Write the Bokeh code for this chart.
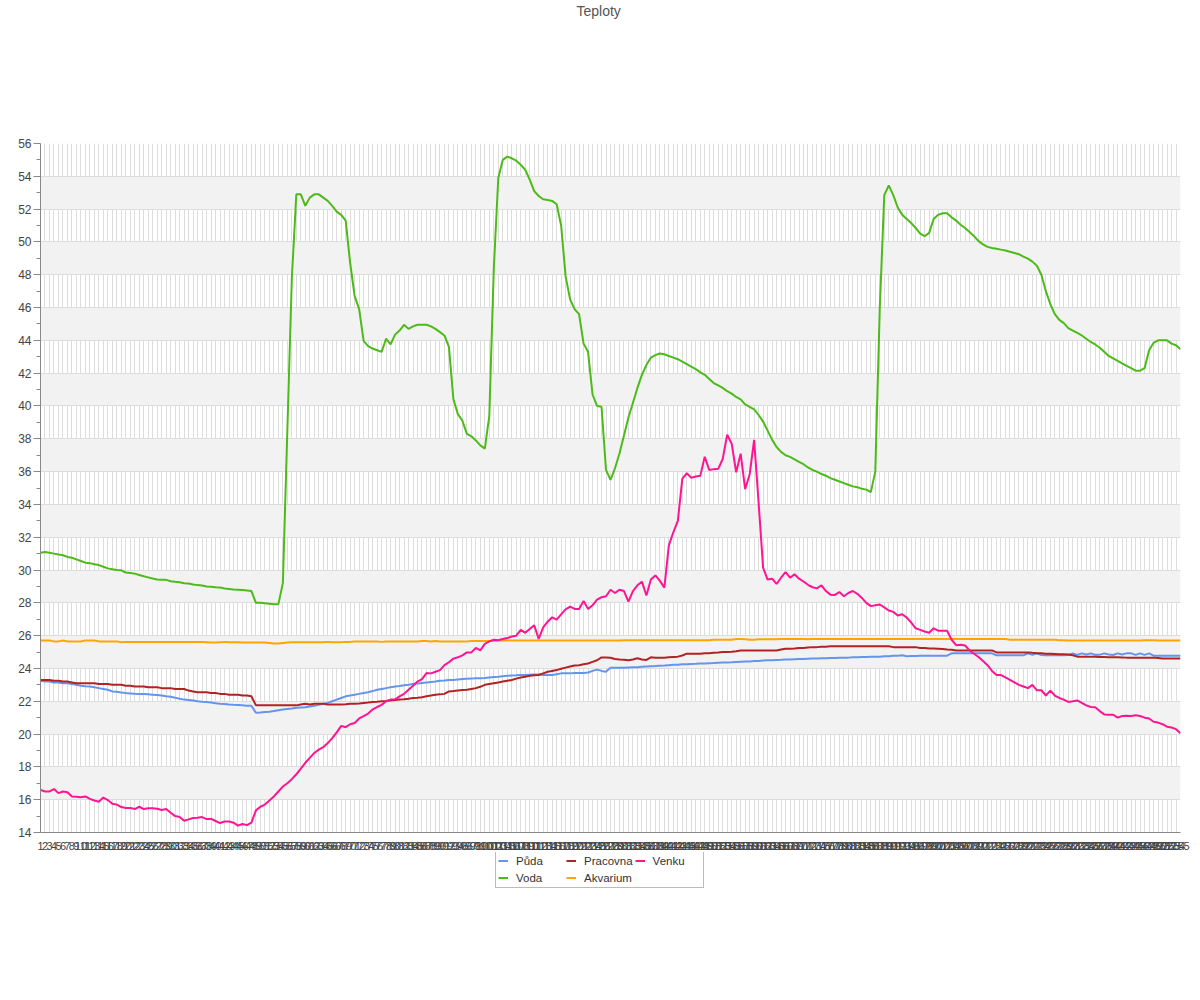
from bokeh.plotting import figure
from bokeh.models import (ColumnDataSource, Range1d, FixedTicker, Legend, LegendItem, Title)
from bokeh.layouts import column
from bokeh.embed import file_html
from bokeh.resources import INLINE

title_text = "Teploty"
series_names = ["Půda", "Pracovna", "Venku", "Voda", "Akvarium"]
series_colors = ["#6495ED", "#B22222", "#FF1493", "#4CBB17", "#FFA500"]

# x categories (sample numbers 1..255, shown as tick labels)
samples = list(range(1, 256))

puda = [
    23.25, 23.2, 23.2, 23.15, 23.15, 23.1, 23.1, 23.05, 23.0, 22.95,
    22.92, 22.9, 22.85, 22.8, 22.75, 22.7, 22.6, 22.58, 22.53, 22.5,
    22.48, 22.46, 22.45, 22.44, 22.42, 22.4, 22.38, 22.35, 22.3, 22.27,
    22.22, 22.15, 22.1, 22.08, 22.05, 22.0, 21.97, 21.95, 21.92, 21.88,
    21.85, 21.83, 21.8, 21.78, 21.77, 21.75, 21.73, 21.72, 21.3, 21.32,
    21.35, 21.36, 21.4, 21.45, 21.5, 21.53, 21.56, 21.6, 21.62, 21.64,
    21.68, 21.72, 21.78, 21.85, 21.9, 22.0, 22.1, 22.2, 22.3, 22.35,
    22.4, 22.45, 22.5, 22.55, 22.62, 22.7, 22.75, 22.8, 22.85, 22.9,
    22.93, 22.97, 23.0, 23.05, 23.08, 23.12, 23.15, 23.18, 23.2, 23.25,
    23.27, 23.3, 23.3, 23.33, 23.35, 23.37, 23.38, 23.4, 23.4, 23.42,
    23.45, 23.48, 23.5, 23.53, 23.55, 23.57, 23.58, 23.6, 23.6, 23.62,
    23.63, 23.63, 23.6, 23.6, 23.6, 23.65, 23.7, 23.7, 23.7, 23.72,
    23.72, 23.73, 23.75, 23.85, 23.93, 23.85, 23.8, 24.05, 24.05, 24.05,
    24.05, 24.06, 24.07, 24.08, 24.1, 24.12, 24.14, 24.15, 24.17, 24.18,
    24.2, 24.22, 24.23, 24.25, 24.26, 24.27, 24.28, 24.3, 24.3, 24.32,
    24.33, 24.35, 24.36, 24.37, 24.38, 24.4, 24.41, 24.42, 24.43, 24.45,
    24.46, 24.48, 24.5, 24.5, 24.52, 24.53, 24.55, 24.55, 24.56, 24.57,
    24.58, 24.59, 24.6, 24.6, 24.62, 24.62, 24.63, 24.64, 24.65, 24.66,
    24.66, 24.68, 24.68, 24.7, 24.7, 24.71, 24.72, 24.72, 24.74, 24.75,
    24.77, 24.78, 24.8, 24.75, 24.76, 24.76, 24.77, 24.77, 24.77, 24.78,
    24.78, 24.78, 24.78, 24.92, 24.92, 24.92, 24.92, 24.92, 24.92, 24.92,
    24.92, 24.92, 24.92, 24.8, 24.8, 24.8, 24.8, 24.8, 24.8, 24.8,
    24.92, 24.83, 24.92, 24.82, 24.8, 24.8, 24.82, 24.8, 24.8, 24.82,
    24.92, 24.83, 24.92, 24.85, 24.92, 24.83, 24.83, 24.92, 24.85, 24.82,
    24.92, 24.85, 24.92, 24.92, 24.83, 24.92, 24.83, 24.92, 24.78, 24.78,
    24.78, 24.78, 24.78, 24.78, 24.78,
]

pracovna = [
    23.3, 23.3, 23.3, 23.25, 23.25, 23.2, 23.2, 23.15, 23.1, 23.1,
    23.1, 23.1, 23.1, 23.05, 23.05, 23.05, 23.0, 23.0, 23.0, 22.95,
    22.95, 22.9, 22.9, 22.9, 22.85, 22.85, 22.85, 22.8, 22.8, 22.8,
    22.75, 22.75, 22.75, 22.65, 22.6, 22.55, 22.55, 22.55, 22.5, 22.5,
    22.45, 22.45, 22.4, 22.4, 22.4, 22.35, 22.35, 22.3, 21.75, 21.75,
    21.75, 21.75, 21.75, 21.75, 21.75, 21.75, 21.75, 21.75, 21.8, 21.85,
    21.8, 21.85, 21.85, 21.85, 21.8, 21.8, 21.8, 21.8, 21.82, 21.85,
    21.85, 21.87, 21.9, 21.92, 21.95, 21.97, 22.0, 22.02, 22.05, 22.08,
    22.1, 22.12, 22.15, 22.2, 22.22, 22.25, 22.3, 22.35, 22.4, 22.42,
    22.45, 22.6, 22.62, 22.65, 22.68, 22.7, 22.75, 22.8, 22.88, 23.0,
    23.05, 23.1, 23.15, 23.2, 23.25, 23.3, 23.38, 23.45, 23.5, 23.55,
    23.58, 23.6, 23.7, 23.8, 23.85, 23.9, 23.98, 24.05, 24.12, 24.18,
    24.2, 24.25, 24.3, 24.4, 24.5, 24.67, 24.67, 24.65, 24.58, 24.55,
    24.53, 24.5, 24.55, 24.62, 24.55, 24.52, 24.68, 24.65, 24.65, 24.65,
    24.68, 24.7, 24.72, 24.79, 24.9, 24.9, 24.9, 24.9, 24.92, 24.92,
    24.95, 24.97, 25.0, 25.0, 25.02, 25.05, 25.1, 25.1, 25.1, 25.1,
    25.1, 25.1, 25.1, 25.1, 25.1, 25.15, 25.2, 25.2, 25.22, 25.25,
    25.25, 25.28, 25.3, 25.3, 25.32, 25.33, 25.35, 25.35, 25.35, 25.35,
    25.35, 25.35, 25.35, 25.35, 25.35, 25.35, 25.35, 25.35, 25.35, 25.35,
    25.3, 25.3, 25.3, 25.3, 25.3, 25.3, 25.25, 25.25, 25.22, 25.22,
    25.2, 25.18, 25.15, 25.14, 25.1, 25.1, 25.1, 25.1, 25.1, 25.1,
    25.1, 25.1, 25.1, 24.98, 24.98, 24.98, 24.98, 24.98, 24.98, 24.98,
    24.98, 24.95, 24.93, 24.92, 24.9, 24.9, 24.88, 24.86, 24.86, 24.85,
    24.8, 24.72, 24.72, 24.72, 24.72, 24.71, 24.7, 24.7, 24.69, 24.68,
    24.68, 24.67, 24.66, 24.66, 24.66, 24.66, 24.66, 24.66, 24.66, 24.63,
    24.6, 24.6, 24.6, 24.6, 24.6,
]

venku = [
    16.6, 16.5, 16.5, 16.65, 16.4, 16.5, 16.45, 16.2, 16.18, 16.15,
    16.2, 16.05, 15.95, 15.88, 16.13, 15.98, 15.75, 15.7, 15.55, 15.5,
    15.5, 15.43, 15.57, 15.43, 15.48, 15.48, 15.45, 15.37, 15.43, 15.2,
    15.0, 14.95, 14.72, 14.8, 14.88, 14.9, 14.94, 14.82, 14.83, 14.7,
    14.57, 14.67, 14.67, 14.6, 14.42, 14.52, 14.45, 14.6, 15.35, 15.57,
    15.7, 15.95, 16.2, 16.5, 16.8, 17.0, 17.25, 17.55, 17.9, 18.25,
    18.55, 18.85, 19.05, 19.2, 19.45, 19.75, 20.1, 20.5, 20.42, 20.6,
    20.68, 20.95, 21.1, 21.25, 21.5, 21.65, 21.78, 22.0, 22.1, 22.12,
    22.3, 22.45, 22.7, 22.95, 23.2, 23.35, 23.72, 23.7, 23.8, 23.9,
    24.2, 24.38, 24.6, 24.68, 24.8, 24.98, 24.98, 25.25, 25.1, 25.5,
    25.65, 25.75, 25.72, 25.8, 25.85, 25.95, 26.0, 26.35, 26.17, 26.4,
    26.63, 25.8, 26.5, 26.85, 27.12, 26.98, 27.3, 27.6, 27.77, 27.63,
    27.63, 28.12, 27.63, 27.85, 28.2, 28.34, 28.4, 28.8, 28.6, 28.8,
    28.72, 28.07, 28.72, 29.07, 29.29, 28.45, 29.42, 29.67, 29.34, 28.93,
    31.5, 32.3, 33.0, 35.55, 35.9, 35.63, 35.7, 35.74, 36.9, 36.1,
    36.15, 36.17, 36.77, 38.25, 37.7, 35.96, 37.09, 34.93, 35.82, 37.93,
    34.1, 30.15, 29.42, 29.47, 29.15, 29.53, 29.88, 29.53, 29.74, 29.47,
    29.3, 29.1, 28.95, 28.88, 29.07, 28.72, 28.5, 28.48, 28.66, 28.4,
    28.6, 28.72, 28.55, 28.3, 28.0, 27.8, 27.85, 27.9, 27.72, 27.53,
    27.45, 27.23, 27.3, 27.1, 26.8, 26.45, 26.35, 26.25, 26.18, 26.45,
    26.3, 26.3, 26.3, 25.75, 25.42, 25.45, 25.4, 25.1, 24.9, 24.7,
    24.45, 24.2, 23.85, 23.6, 23.6, 23.45, 23.3, 23.15, 23.0, 22.9,
    22.8, 23.0, 22.67, 22.67, 22.35, 22.65, 22.35, 22.2, 22.1, 21.96,
    22.0, 22.05, 21.9, 21.75, 21.65, 21.64, 21.4, 21.2, 21.18, 21.18,
    21.0, 21.1, 21.12, 21.1, 21.15, 21.1, 21.0, 20.95, 20.75, 20.7,
    20.6, 20.45, 20.4, 20.3, 20.05,
]

voda = [
    31.05, 31.1, 31.05, 31.0, 30.95, 30.9, 30.8, 30.75, 30.65, 30.55,
    30.45, 30.42, 30.35, 30.3, 30.2, 30.1, 30.05, 30.0, 29.98, 29.85,
    29.82, 29.78, 29.7, 29.62, 29.55, 29.48, 29.42, 29.4, 29.4, 29.32,
    29.28, 29.25, 29.2, 29.18, 29.12, 29.08, 29.05, 29.0, 28.98, 28.95,
    28.93, 28.88, 28.85, 28.82, 28.8, 28.78, 28.75, 28.72, 28.0, 28.0,
    27.98, 27.95, 27.92, 27.92, 29.2, 38.5, 47.8, 52.9, 52.9, 52.2,
    52.7, 52.9, 52.9, 52.7, 52.5, 52.2, 51.85, 51.65, 51.3, 48.7,
    46.7, 45.9, 43.95, 43.65, 43.5, 43.4, 43.3, 44.1, 43.75, 44.35,
    44.6, 44.95, 44.7, 44.85, 44.95, 44.95, 44.95, 44.85, 44.7, 44.5,
    44.3, 43.6, 40.4, 39.5, 39.1, 38.3, 38.15, 37.9, 37.6, 37.4,
    39.4, 48.4, 53.9, 55.0, 55.2, 55.1, 54.95, 54.7, 54.4, 53.8,
    53.1, 52.8, 52.6, 52.55, 52.5, 52.3, 51.0, 47.9, 46.5, 45.9,
    45.6, 43.8, 43.3, 40.7, 40.0, 39.95, 36.1, 35.5, 36.2, 37.1,
    38.2, 39.3, 40.2, 41.1, 41.9, 42.5, 42.95, 43.1, 43.2, 43.15,
    43.05, 42.95, 42.85, 42.7, 42.55, 42.4, 42.25, 42.05, 41.9, 41.65,
    41.4, 41.25, 41.1, 40.9, 40.75, 40.55, 40.4, 40.1, 39.95, 39.8,
    39.45, 39.05, 38.5, 37.95, 37.5, 37.2, 37.0, 36.9, 36.75, 36.6,
    36.45, 36.25, 36.1, 36.0, 35.85, 35.75, 35.6, 35.5, 35.4, 35.3,
    35.2, 35.1, 35.05, 34.95, 34.9, 34.75, 36.0, 46.0, 52.85, 53.45,
    52.85, 52.1, 51.65, 51.4, 51.15, 50.85, 50.5, 50.35, 50.55, 51.4,
    51.65, 51.75, 51.75, 51.5, 51.3, 51.05, 50.85, 50.6, 50.35, 50.05,
    49.85, 49.7, 49.63, 49.58, 49.53, 49.48, 49.4, 49.33, 49.25, 49.1,
    48.98, 48.8, 48.55, 48.0, 47.0, 46.2, 45.6, 45.25, 45.05, 44.75,
    44.6, 44.45, 44.3, 44.1, 43.9, 43.75, 43.55, 43.3, 43.05, 42.9,
    42.75, 42.6, 42.45, 42.3, 42.15, 42.15, 42.3, 43.4, 43.85, 44.0,
    44.0, 44.0, 43.8, 43.7, 43.45,
]

akvarium = [
    25.7, 25.7, 25.7, 25.65, 25.65, 25.7, 25.65, 25.65, 25.65, 25.65,
    25.7, 25.7, 25.7, 25.65, 25.65, 25.65, 25.65, 25.65, 25.6, 25.62,
    25.62, 25.62, 25.62, 25.62, 25.62, 25.62, 25.62, 25.62, 25.62, 25.62,
    25.62, 25.62, 25.62, 25.62, 25.62, 25.62, 25.62, 25.6, 25.58, 25.58,
    25.6, 25.62, 25.6, 25.6, 25.6, 25.58, 25.58, 25.58, 25.58, 25.58,
    25.58, 25.55, 25.52, 25.52, 25.55, 25.58, 25.6, 25.6, 25.6, 25.6,
    25.6, 25.6, 25.6, 25.6, 25.62, 25.6, 25.6, 25.6, 25.62, 25.62,
    25.65, 25.65, 25.65, 25.65, 25.65, 25.65, 25.62, 25.65, 25.65, 25.65,
    25.65, 25.65, 25.65, 25.65, 25.65, 25.68, 25.68, 25.65, 25.68, 25.65,
    25.65, 25.65, 25.65, 25.65, 25.65, 25.65, 25.68, 25.68, 25.68, 25.68,
    25.68, 25.68, 25.7, 25.7, 25.7, 25.7, 25.7, 25.7, 25.7, 25.7,
    25.7, 25.7, 25.7, 25.7, 25.7, 25.7, 25.7, 25.7, 25.7, 25.7,
    25.7, 25.7, 25.7, 25.7, 25.7, 25.7, 25.7, 25.7, 25.7, 25.7,
    25.72, 25.72, 25.72, 25.72, 25.72, 25.72, 25.72, 25.72, 25.72, 25.72,
    25.72, 25.72, 25.72, 25.72, 25.72, 25.72, 25.72, 25.72, 25.72, 25.72,
    25.75, 25.75, 25.75, 25.75, 25.75, 25.8, 25.8, 25.78, 25.75, 25.75,
    25.78, 25.78, 25.78, 25.78, 25.78, 25.8, 25.8, 25.8, 25.8, 25.8,
    25.8, 25.78, 25.8, 25.8, 25.8, 25.8, 25.8, 25.8, 25.8, 25.8,
    25.8, 25.8, 25.8, 25.8, 25.8, 25.8, 25.8, 25.8, 25.8, 25.8,
    25.8, 25.8, 25.8, 25.8, 25.8, 25.8, 25.8, 25.8, 25.8, 25.8,
    25.8, 25.8, 25.8, 25.8, 25.8, 25.8, 25.8, 25.8, 25.8, 25.8,
    25.8, 25.8, 25.8, 25.8, 25.8, 25.8, 25.75, 25.75, 25.75, 25.75,
    25.75, 25.75, 25.75, 25.75, 25.75, 25.75, 25.75, 25.72, 25.72, 25.7,
    25.7, 25.7, 25.7, 25.7, 25.7, 25.7, 25.7, 25.7, 25.7, 25.7,
    25.7, 25.7, 25.7, 25.7, 25.7, 25.7, 25.72, 25.72, 25.72, 25.7,
    25.7, 25.7, 25.7, 25.7, 25.7,
]

y_ticks = list(range(14, 57, 2))
y_minor = list(range(15, 56, 2))

for s in (puda, pracovna, venku, voda, akvarium):
    assert len(s) == len(samples), len(s)

FONT = "Liberation Sans"
cols = ["puda", "pracovna", "venku", "voda", "akvarium"]

source = ColumnDataSource(data=dict(x=samples, puda=puda, pracovna=pracovna,
                                    venku=venku, voda=voda, akvarium=akvarium))

# ---------------- main chart ----------------
p = figure(frame_width=1140, frame_height=689,
           x_range=Range1d(samples[0], samples[-1]),
           y_range=Range1d(y_ticks[0], y_ticks[-1]),
           output_backend="svg", toolbar_location=None,
           min_border_left=40, min_border_right=12,
           min_border_top=143, min_border_bottom=0)
p.outline_line_color = None
p.background_fill_color = "white"
p.border_fill_color = "white"

# empty spacer panel between frame and title (keeps the title at the top)
spacer = Title(text=" ", standoff=109, text_font_size="10px", text_color="white")
p.add_layout(spacer, "above")

p.title.text = title_text
p.title.align = "left"
p.title.offset = 536
p.title.vertical_align = "top"
p.title.standoff = 2
p.title.text_font = FONT
p.title.text_font_size = "14px"
p.title.text_font_style = "normal"
p.title.text_color = "#555555"

xa = p.xaxis[0]
xa.ticker = FixedTicker(ticks=samples)
xa.major_tick_out = 0
xa.major_tick_in = 0
xa.minor_tick_out = 0
xa.axis_line_color = "#888888"
xa.major_label_standoff = 9
xa.major_label_text_font = FONT
xa.major_label_text_font_size = "11px"
xa.major_label_text_color = "#444444"

ya = p.yaxis[0]
ya.ticker = FixedTicker(ticks=y_ticks, minor_ticks=y_minor)
ya.major_tick_out = 7
ya.major_tick_in = 0
ya.minor_tick_out = 4
ya.minor_tick_in = 0
ya.axis_line_color = "#888888"
ya.major_tick_line_color = "#888888"
ya.minor_tick_line_color = "#888888"
ya.major_label_standoff = 2
ya.major_label_text_font = FONT
ya.major_label_text_font_size = "12px"
ya.major_label_text_color = "#444444"

p.xgrid.grid_line_color = "#dddddd"
p.ygrid.grid_line_color = "#dddddd"
p.ygrid.band_fill_color = "#f2f2f2"
p.ygrid.band_fill_alpha = 1.0

draw_order = ["voda", "akvarium", "puda", "pracovna", "venku"]
for c in draw_order:
    k = cols.index(c)
    p.line("x", c, source=source, line_color=series_colors[k], line_width=2)

# ---------------- legend strip below the chart ----------------
lg = figure(frame_width=1140, frame_height=48, x_range=Range1d(-20, -10), y_range=Range1d(0, 1),
            x_axis_type=None, y_axis_type=None, output_backend="svg",
            toolbar_location=None, min_border_left=40, min_border_right=12,
            min_border_top=0, min_border_bottom=0)
lg.outline_line_color = None
lg.xgrid.visible = False
lg.ygrid.visible = False
lg_renderers = {}
for k, c in enumerate(cols):
    lg_renderers[c] = lg.line("x", c, source=source, line_color=series_colors[k], line_width=2)

items = [LegendItem(label=series_names[k], renderers=[lg_renderers[c]]) for k, c in enumerate(cols)]
legend = Legend(items=items, location=(455, 12), orientation="horizontal", ncols=3,
                glyph_width=10, glyph_height=15, label_height=15, label_width=48,
                label_standoff=8, spacing=2, padding=2, margin=0,
                label_text_font=FONT, label_text_font_size="11.5px",
                label_text_color="#333333",
                border_line_color="#777777", background_fill_alpha=1.0)
lg.add_layout(legend, "center")

layout = column(p, lg, spacing=0)
open("out.html", "w").write(file_html(layout, INLINE))
